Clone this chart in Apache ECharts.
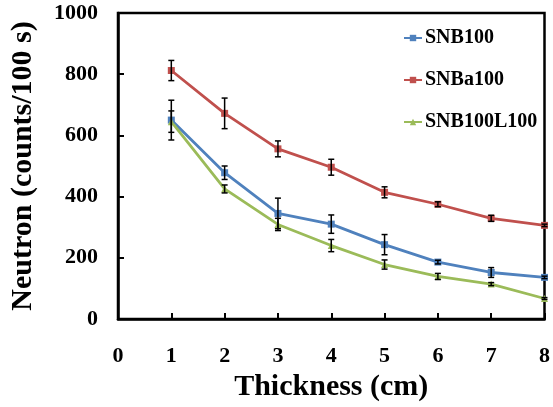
<!DOCTYPE html>
<html>
<head>
<meta charset="utf-8">
<script src="https://cdn.jsdelivr.net/npm/echarts@6/dist/echarts.min.js"></script>
<style>
  html, body { margin: 0; padding: 0; background: #fff; }
  #chart { width: 553px; height: 407px; }
</style>
</head>
<body>
<div id="chart"></div>
<script>
  var thickness = [1, 2, 3, 4, 5, 6, 7, 8]
  var snb100 = [650, 478, 345, 310, 243, 186, 152, 136]
  var snb100Err = [65, 22, 50, 30, 33, 6, 16, 4]
  var snba100 = [812, 672, 556, 496, 414, 375, 329, 306]
  var snba100Err = [33, 50, 26, 26, 18, 8, 10, 4]
  var snb100l100 = [645, 425, 309, 240, 178, 139, 114, 67]
  var snb100l100Err = [35, 13, 20, 20, 15, 10, 5, 3]
  var yTicks = [0, 200, 400, 600, 800, 1000]

  var font = 'Liberation Serif'

  function pairs (ys) {
    return thickness.map(function (x, i) { return [x, ys[i]] })
  }

  function errData (ys, errs) {
    return thickness.map(function (x, i) { return [x, ys[i] - errs[i], ys[i] + errs[i]] })
  }

  function errRender (params, api) {
    var lo = api.coord([api.value(0), api.value(1)])
    var hi = api.coord([api.value(0), api.value(2)])
    var cap = 3
    var st = { stroke: '#000', lineWidth: 1.5 }
    return {
      type: 'group',
      children: [
        { type: 'line', shape: { x1: lo[0], y1: lo[1], x2: hi[0], y2: hi[1] }, style: st },
        { type: 'line', shape: { x1: lo[0] - cap, y1: lo[1], x2: lo[0] + cap, y2: lo[1] }, style: st },
        { type: 'line', shape: { x1: hi[0] - cap, y1: hi[1], x2: hi[0] + cap, y2: hi[1] }, style: st }
      ]
    }
  }

  function lineSeries (name, ys, color, symbol) {
    return {
      name: name,
      type: 'line',
      data: pairs(ys),
      symbol: symbol,
      symbolSize: 7,
      z: 3,
      itemStyle: { color: color },
      lineStyle: { color: color, width: 2.8 }
    }
  }

  function errSeries (ys, errs) {
    return {
      type: 'custom',
      renderItem: errRender,
      data: errData(ys, errs),
      encode: { x: 0, y: [1, 2] },
      z: 4,
      silent: true
    }
  }

  var chart = echarts.init(document.getElementById('chart'))
  var option = {
    animation: false,
    grid: {
      left: 115, right: 7, top: 13, bottom: 88,
      show: true, borderColor: '#000', borderWidth: 2.5, backgroundColor: 'transparent'
    },
    legend: {
      orient: 'vertical',
      left: 398,
      top: 23,
      itemGap: 22,
      itemWidth: 18,
      itemHeight: 8,
      textStyle: { fontFamily: font, fontWeight: 'bold', fontSize: 20, color: '#000', padding: [0, 0, 0, -2] },
      data: ['SNB100', 'SNBa100', 'SNB100L100']
    },
    xAxis: {
      type: 'value',
      min: 0,
      max: 8,
      interval: 1,
      name: 'Thickness (cm)',
      nameLocation: 'middle',
      nameGap: 44,
      nameTextStyle: { fontFamily: font, fontWeight: 'bold', fontSize: 30, color: '#000' },
      axisLine: { lineStyle: { color: '#000', width: 2.5 } },
      axisTick: { inside: true, length: 6, lineStyle: { color: '#000', width: 2 } },
      axisLabel: { margin: 26, fontFamily: font, fontWeight: 'bold', fontSize: 22, color: '#000' },
      splitLine: { show: false }
    },
    yAxis: {
      type: 'value',
      min: yTicks[0],
      max: yTicks[yTicks.length - 1],
      interval: 200,
      name: 'Neutron (counts/100 s)',
      nameLocation: 'middle',
      nameGap: 80,
      nameTextStyle: { fontFamily: font, fontWeight: 'bold', fontSize: 30, color: '#000' },
      axisLine: { lineStyle: { color: '#000', width: 2.5 } },
      axisTick: { inside: true, length: 6, lineStyle: { color: '#000', width: 2 } },
      axisLabel: {
        margin: 20, fontFamily: font, fontWeight: 'bold', fontSize: 22, color: '#000',
        formatter: function (v) { return String(v) }
      },
      splitLine: { show: false }
    },
    series: [
      lineSeries('SNB100', snb100, '#4F81BD', 'rect'),
      lineSeries('SNBa100', snba100, '#C0504D', 'rect'),
      lineSeries('SNB100L100', snb100l100, '#9BBB59', 'triangle'),
      errSeries(snb100, snb100Err),
      errSeries(snba100, snba100Err),
      errSeries(snb100l100, snb100l100Err)
    ]
  }
  chart.setOption(option)
</script>
</body>
</html>
